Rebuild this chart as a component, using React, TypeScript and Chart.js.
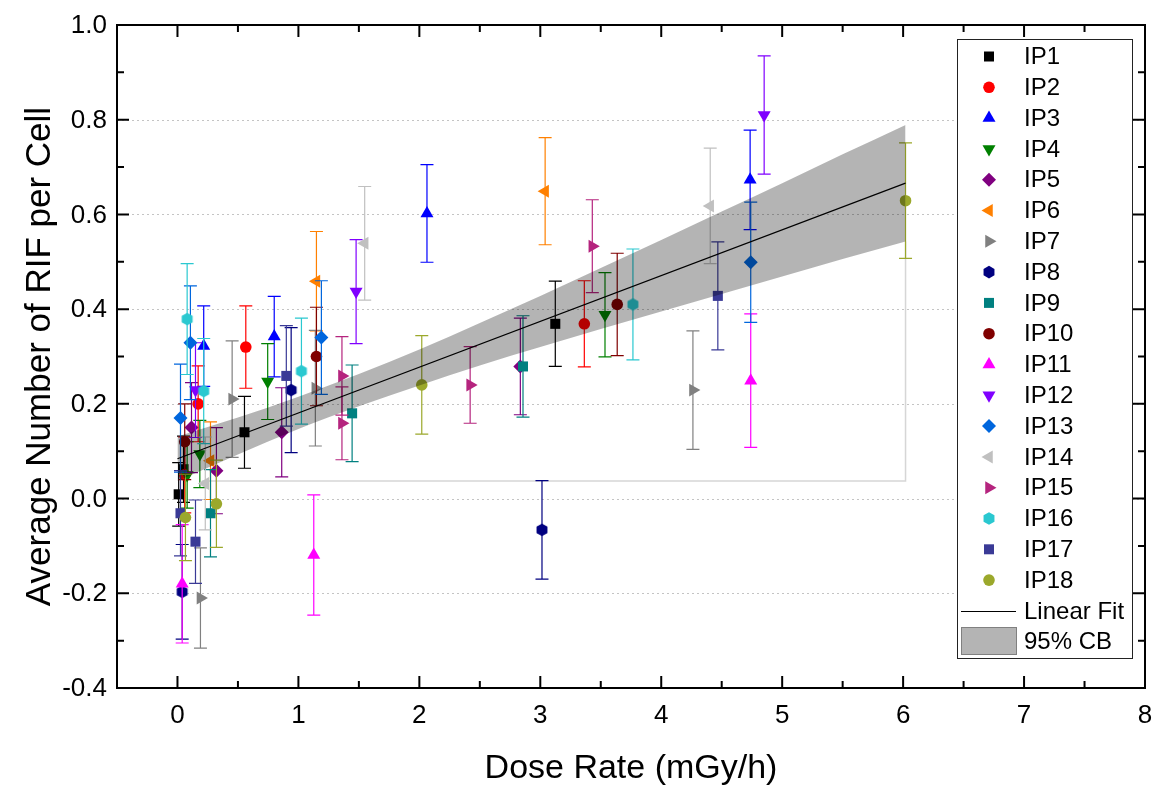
import React, { useEffect, useRef } from 'react';
import { Chart, registerables } from 'chart.js';

Chart.register(...registerables);

// ---------- data: [dose rate, mean RIF, error] ----------
const ip1 = [[0.01, 0.009, 0.067], [0.05, 0.062, 0.07], [0.554, 0.14, 0.076], [3.124, 0.369, 0.09]];
const ip2 = [[0.06, 0.05, 0.08], [0.171, 0.2, 0.08], [0.565, 0.32, 0.087], [3.364, 0.369, 0.091]];
const ip3 = [[0.217, 0.322, 0.085], [0.8, 0.342, 0.085], [2.063, 0.602, 0.103], [4.735, 0.673, 0.105]];
const ip4 = [[0.08, 0.05, 0.07], [0.185, 0.094, 0.071], [0.746, 0.247, 0.08], [3.535, 0.388, 0.089]];
const ip5 = [[0.116, 0.15, 0.095], [0.322, 0.059, 0.091], [0.862, 0.14, 0.094], [2.835, 0.279, 0.102]];
const ip6 = [[0.273, 0.08, 0.082], [1.149, 0.459, 0.105], [3.04, 0.649, 0.113]];
const ip7 = [[0.19, -0.21, 0.106], [0.452, 0.21, 0.123], [1.14, 0.233, 0.122], [4.262, 0.229, 0.125]];
const ip8 = [[0.039, -0.197, 0.1], [0.94, 0.229, 0.132], [3.014, -0.066, 0.104]];
const ip9 = [[0.273, -0.031, 0.092], [1.444, 0.18, 0.102], [2.857, 0.279, 0.107]];
const ip10 = [[0.06, 0.12, 0.08], [1.149, 0.3, 0.104], [3.636, 0.41, 0.108]];
const ip11 = [[0.039, -0.18, 0.125], [1.127, -0.119, 0.127], [4.74, 0.249, 0.141]];
const ip12 = [[0.149, 0.229, 0.1], [1.477, 0.437, 0.11], [4.851, 0.81, 0.125]];
const ip13 = [[0.025, 0.17, 0.114], [0.107, 0.329, 0.12], [1.19, 0.34, 0.12], [4.74, 0.499, 0.127]];
const ip14 = [[0.23, 0.032, 0.098], [1.548, 0.539, 0.12], [4.405, 0.618, 0.122]];
const ip15 = [[1.36, 0.259, 0.083], [1.36, 0.159, 0.077], [2.42, 0.24, 0.081], [3.43, 0.533, 0.098]];
const ip16 = [[0.08, 0.379, 0.117], [0.217, 0.227, 0.111], [1.025, 0.269, 0.112], [3.766, 0.41, 0.117]];
const ip17 = [[0.025, -0.031, 0.09], [0.149, -0.091, 0.088], [0.9, 0.259, 0.106], [4.468, 0.428, 0.114]];
const ip18 = [[0.066, -0.04, 0.091], [0.322, -0.011, 0.092], [2.02, 0.24, 0.104], [6.02, 0.629, 0.122]];

const seriesNames = ['IP1', 'IP2', 'IP3', 'IP4', 'IP5', 'IP6', 'IP7', 'IP8', 'IP9', 'IP10', 'IP11', 'IP12', 'IP13', 'IP14', 'IP15', 'IP16', 'IP17', 'IP18'];
const seriesData = [ip1, ip2, ip3, ip4, ip5, ip6, ip7, ip8, ip9, ip10, ip11, ip12, ip13, ip14, ip15, ip16, ip17, ip18];
const seriesColors = ['#000000', '#FF0000', '#0000FF', '#008000', '#800080', '#FF8000', '#808080', '#000080', '#008080', '#800000', '#FF00FF', '#8000FF', '#0066DD', '#C0C0C0', '#B5247E', '#2AC8D0', '#3A3A96', '#9BA82B'];
const seriesShapes = ['square', 'circle', 'up', 'down', 'diamond', 'left', 'right', 'hex', 'square', 'circle', 'up', 'down', 'diamond', 'left', 'right', 'hex', 'square', 'circle'];

// linear fit and 95% confidence band
const fitX = [0, 6.02];
const fitY = [0.084, 0.666];
const bandX = [0, 0.5, 1, 1.5, 2, 2.5, 3, 3.5, 4, 4.5, 5, 5.5, 6.02];
const bandUpper = [0.131, 0.171, 0.215, 0.263, 0.315, 0.371, 0.428, 0.487, 0.546, 0.606, 0.666, 0.727, 0.789];
const bandLower = [0.037, 0.093, 0.147, 0.195, 0.239, 0.281, 0.32, 0.358, 0.395, 0.432, 0.469, 0.506, 0.543];
const outlineX = [0.2, 6.02, 6.02];
const outlineY = [0.037, 0.037, 0.543];

// axes
const xTicks = [0, 1, 2, 3, 4, 5, 6, 7, 8];
const xMinor = [-0.5, 0.5, 1.5, 2.5, 3.5, 4.5, 5.5, 6.5, 7.5];
const yTicks = [-0.4, -0.2, 0, 0.2, 0.4, 0.6, 0.8, 1.0];
const yMinor = [-0.3, -0.1, 0.1, 0.3, 0.5, 0.7, 0.9];
const xTitle = 'Dose Rate (mGy/h)';
const yTitle = 'Average Number of RIF per Cell';

const FAMILY = '"Liberation Sans", Arial, sans-serif';

function markerPath(ctx: CanvasRenderingContext2D, shape: string, x: number, y: number) {
  ctx.beginPath();
  const tri = (rot: number, r: number) => {
    for (let k = 0; k < 3; k++) {
      const a = rot + (k * 2 * Math.PI) / 3;
      const px = x + Math.sin(a) * r;
      const py = y - Math.cos(a) * r;
      if (k === 0) ctx.moveTo(px, py); else ctx.lineTo(px, py);
    }
    ctx.closePath();
  };
  switch (shape) {
    case 'square': ctx.rect(x - 5, y - 5, 10, 10); break;
    case 'circle': ctx.arc(x, y, 5.8, 0, Math.PI * 2); break;
    case 'up': tri(0, 7.5); break;
    case 'down': tri(Math.PI, 7.5); break;
    case 'left': tri(1.5 * Math.PI, 7.5); break;
    case 'right': tri(0.5 * Math.PI, 7.5); break;
    case 'diamond':
      ctx.moveTo(x, y - 7); ctx.lineTo(x + 7, y); ctx.lineTo(x, y + 7); ctx.lineTo(x - 7, y); ctx.closePath(); break;
    case 'hex':
      for (let k = 0; k < 6; k++) {
        const a = -Math.PI / 2 + (k * Math.PI) / 3;
        const px = x + Math.cos(a) * 6.3;
        const py = y + Math.sin(a) * 6.3;
        if (k === 0) ctx.moveTo(px, py); else ctx.lineTo(px, py);
      }
      ctx.closePath();
      break;
  }
}

function makeHex(color: string): HTMLCanvasElement {
  const c = document.createElement('canvas');
  c.width = 16; c.height = 16;
  const g = c.getContext('2d')!;
  g.fillStyle = color;
  markerPath(g, 'hex', 8, 8);
  g.fill();
  return c;
}

function pointOpts(shape: string, color: string) {
  switch (shape) {
    case 'square': return { pointStyle: 'rect', pointRadius: 7.1, pointRotation: 0 };
    case 'circle': return { pointStyle: 'circle', pointRadius: 5.8, pointRotation: 0 };
    case 'up': return { pointStyle: 'triangle', pointRadius: 7.5, pointRotation: 0 };
    case 'down': return { pointStyle: 'triangle', pointRadius: 7.5, pointRotation: 180 };
    case 'left': return { pointStyle: 'triangle', pointRadius: 7.5, pointRotation: 270 };
    case 'right': return { pointStyle: 'triangle', pointRadius: 7.5, pointRotation: 90 };
    case 'diamond': return { pointStyle: 'rectRot', pointRadius: 7, pointRotation: 0 };
    default: return { pointStyle: makeHex(color), pointRadius: 7, pointRotation: 0 };
  }
}

const errorBarPlugin = {
  id: 'errorBars',
  beforeDatasetDraw(chart: any, args: any) {
    const ds = chart.data.datasets[args.index];
    if (!ds.errs) return;
    const { ctx, chartArea: a, scales } = chart;
    const xs = scales.x, ys = scales.y;
    ctx.save();
    ctx.beginPath();
    ctx.rect(a.left, a.top, a.right - a.left, a.bottom - a.top);
    ctx.clip();
    ctx.strokeStyle = ds.errColor;
    ctx.lineWidth = 1.2;
    ds.data.forEach((p: any, i: number) => {
      const e = ds.errs[i];
      const px = xs.getPixelForValue(p.x);
      const t = ys.getPixelForValue(p.y + e);
      const b = ys.getPixelForValue(p.y - e);
      ctx.beginPath();
      ctx.moveTo(px, t); ctx.lineTo(px, b);
      ctx.moveTo(px - 6.5, t); ctx.lineTo(px + 6.5, t);
      ctx.moveTo(px - 6.5, b); ctx.lineTo(px + 6.5, b);
      ctx.stroke();
    });
    ctx.restore();
  },
};

const gridPlugin = {
  id: 'dotGrid',
  beforeDatasetsDraw(chart: any) {
    const { ctx, chartArea: a, scales } = chart;
    ctx.save();
    ctx.strokeStyle = '#c4c4c4';
    ctx.lineWidth = 1;
    ctx.setLineDash([2, 3]);
    yTicks.forEach((v) => {
      const py = Math.round(scales.y.getPixelForValue(v)) + 0.5;
      if (py < a.top + 2 || py > a.bottom - 2) return;
      ctx.beginPath();
      ctx.moveTo(a.left, py); ctx.lineTo(a.right, py);
      ctx.stroke();
    });
    ctx.restore();
  },
};

const framePlugin = {
  id: 'frameAndLegend',
  afterDraw(chart: any) {
    const { ctx, chartArea: a, scales } = chart;
    ctx.save();
    // frame
    ctx.strokeStyle = '#000';
    ctx.lineWidth = 2;
    ctx.strokeRect(a.left, a.top, a.right - a.left, a.bottom - a.top);
    // ticks (inward, all four sides)
    const tick = (vals: number[], len: number) => {
      vals.forEach((v) => {
        const px = scales.x.getPixelForValue(v);
        if (px <= a.left + 1 || px >= a.right - 1) return;
        ctx.beginPath();
        ctx.moveTo(px, a.bottom); ctx.lineTo(px, a.bottom - len);
        ctx.moveTo(px, a.top); ctx.lineTo(px, a.top + len);
        ctx.stroke();
      });
    };
    const tickY = (vals: number[], len: number) => {
      vals.forEach((v) => {
        const py = scales.y.getPixelForValue(v);
        if (py <= a.top + 1 || py >= a.bottom - 1) return;
        ctx.beginPath();
        ctx.moveTo(a.left, py); ctx.lineTo(a.left + len, py);
        ctx.moveTo(a.right, py); ctx.lineTo(a.right - len, py);
        ctx.stroke();
      });
    };
    tick(xTicks, 12); tick(xMinor, 7);
    tickY(yTicks, 12); tickY(yMinor, 7);

    // tick labels
    ctx.fillStyle = '#000';
    ctx.font = `26px ${FAMILY}`;
    ctx.textAlign = 'center';
    ctx.textBaseline = 'middle';
    xTicks.forEach((v) => {
      ctx.fillText(String(v), scales.x.getPixelForValue(v), a.bottom + 28);
    });
    ctx.textAlign = 'right';
    yTicks.forEach((v) => {
      ctx.fillText(v.toFixed(1), a.left - 10, scales.y.getPixelForValue(v) + 1);
    });

    // axis titles
    ctx.font = `34px ${FAMILY}`;
    ctx.textAlign = 'center';
    ctx.textBaseline = 'alphabetic';
    ctx.fillText(xTitle, (a.left + a.right) / 2, 778);
    ctx.save();
    ctx.translate(50, (a.top + a.bottom) / 2);
    ctx.rotate(-Math.PI / 2);
    ctx.font = `35px ${FAMILY}`;
    ctx.fillText(yTitle, 0, 0);
    ctx.restore();

    // legend
    const L = 957, T = 39, R = 1132, B = 658;
    ctx.fillStyle = '#fff';
    ctx.fillRect(L, T, R - L, B - T);
    ctx.strokeStyle = '#222';
    ctx.lineWidth = 1;
    ctx.strokeRect(L + 0.5, T + 0.5, R - L, B - T);
    ctx.font = `24px ${FAMILY}`;
    ctx.textAlign = 'left';
    ctx.textBaseline = 'middle';
    const step = 30.8;
    seriesNames.forEach((n, i) => {
      const y = 56.5 + i * step;
      ctx.fillStyle = seriesColors[i];
      markerPath(ctx, seriesShapes[i], 989, y);
      ctx.fill();
      ctx.fillStyle = '#000';
      ctx.fillText(n, 1024, y + 1);
    });
    const yl = 611;
    ctx.strokeStyle = '#000';
    ctx.beginPath(); ctx.moveTo(961, yl + 0.5); ctx.lineTo(1016, yl + 0.5); ctx.stroke();
    ctx.fillStyle = '#000';
    ctx.fillText('Linear Fit', 1024, yl + 1);
    ctx.fillStyle = '#b4b4b4';
    ctx.fillRect(961, 627, 55, 27);
    ctx.strokeStyle = '#808080';
    ctx.strokeRect(961.5, 627.5, 55, 27);
    ctx.fillStyle = '#000';
    ctx.fillText('95% CB', 1024, 642);
    ctx.restore();
  },
};

export default function App() {
  const ref = useRef<HTMLCanvasElement>(null);
  useEffect(() => {
    const canvas = ref.current;
    if (!canvas) return;
    const datasets: any[] = seriesData.map((arr, i) => ({
      label: seriesNames[i],
      data: arr.map((p) => ({ x: p[0], y: p[1] })),
      errs: arr.map((p) => p[2]),
      errColor: seriesColors[i],
      backgroundColor: seriesColors[i],
      borderColor: seriesColors[i],
      borderWidth: 0,
      showLine: false,
      order: 40 - i,
      ...pointOpts(seriesShapes[i], seriesColors[i]),
    }));
    datasets.push({
      label: 'outline',
      data: outlineX.map((x, i) => ({ x, y: outlineY[i] })),
      showLine: true,
      borderColor: '#d6d6d6',
      borderWidth: 1.5,
      pointRadius: 0,
      fill: false,
      order: 60,
    });
    datasets.push({
      label: 'upper',
      data: bandX.map((x, i) => ({ x, y: bandUpper[i] })),
      showLine: true,
      borderWidth: 0,
      borderColor: 'rgba(0,0,0,0)',
      backgroundColor: 'rgba(0,0,0,0.294)',
      pointRadius: 0,
      cubicInterpolationMode: 'monotone',
      fill: '+1',
      order: 1,
    });
    datasets.push({
      label: 'lower',
      data: bandX.map((x, i) => ({ x, y: bandLower[i] })),
      showLine: true,
      borderWidth: 0,
      borderColor: 'rgba(0,0,0,0)',
      pointRadius: 0,
      cubicInterpolationMode: 'monotone',
      fill: false,
      order: 1,
    });
    datasets.push({
      label: 'Linear Fit',
      data: fitX.map((x, i) => ({ x, y: fitY[i] })),
      showLine: true,
      borderColor: '#000',
      borderWidth: 1.2,
      pointRadius: 0,
      fill: false,
      order: 0,
    });

    const chart = new Chart(canvas, {
      type: 'scatter',
      data: { datasets },
      options: {
        responsive: false,
        animation: false,
        layout: { padding: { top: 25, right: 10, left: 0, bottom: 0 } },
        plugins: { legend: { display: false }, tooltip: { enabled: false } },
        scales: {
          x: {
            type: 'linear',
            min: -0.5,
            max: 8,
            afterBuildTicks: (ax: any) => { ax.ticks = xTicks.map((v) => ({ value: v })); },
            afterFit: (s: any) => { s.height = 97; },
            grid: { display: false, drawTicks: false },
            border: { display: false },
            ticks: { display: false },
          },
          y: {
            type: 'linear',
            min: -0.4,
            max: 1.0,
            afterBuildTicks: (ax: any) => { ax.ticks = yTicks.map((v) => ({ value: v })); },
            afterFit: (s: any) => { s.width = 117; },
            grid: { display: false, drawTicks: false },
            border: { display: false },
            ticks: { display: false },
          },
        },
      },
      plugins: [gridPlugin, errorBarPlugin, framePlugin],
    } as any);
    return () => chart.destroy();
  }, []);
  return (
    <div style={{ position: 'absolute', left: 0, top: 0, width: 1155, height: 785, background: '#fff' }}>
      <canvas ref={ref} width={1155} height={785} style={{ width: 1155, height: 785, display: 'block' }} />
    </div>
  );
}
